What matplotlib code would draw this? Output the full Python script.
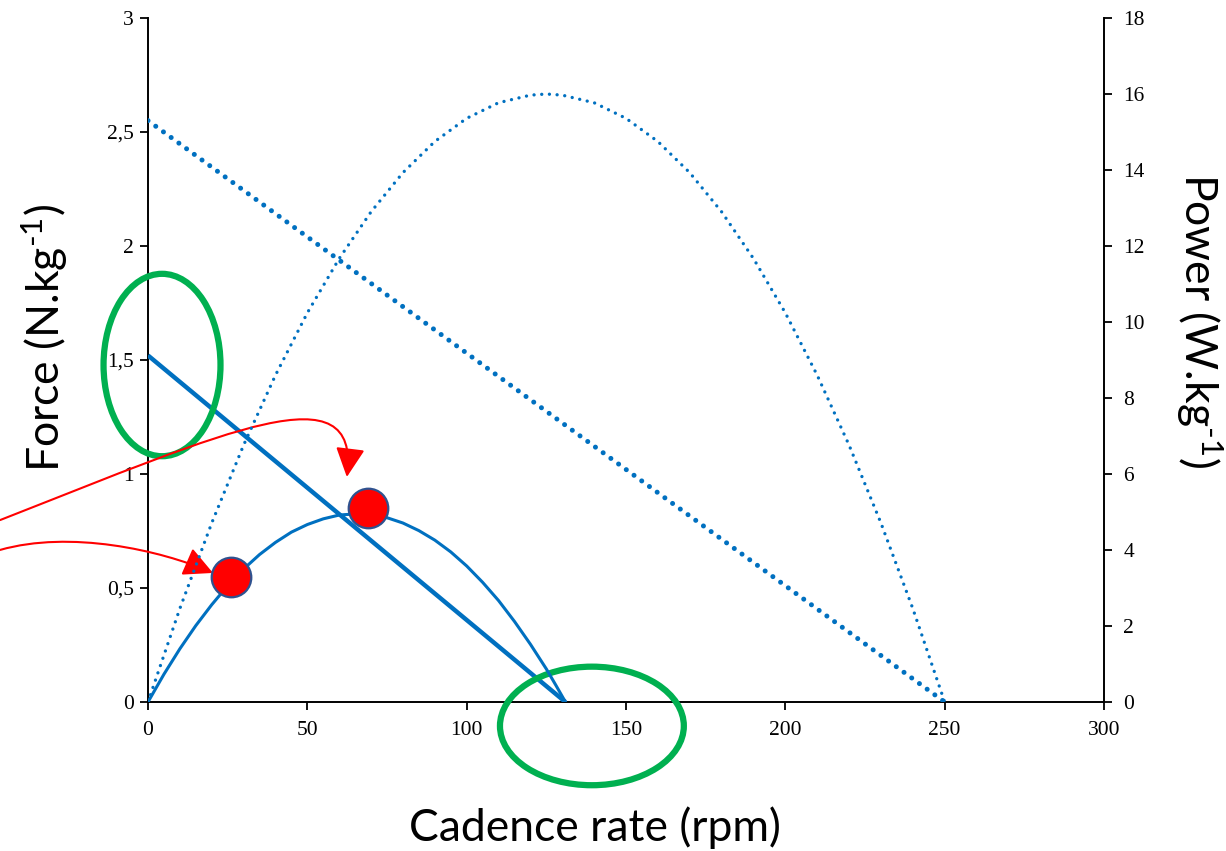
import matplotlib
matplotlib.use("Agg")
import matplotlib.pyplot as plt
from matplotlib.patches import Ellipse, FancyArrowPatch, ArrowStyle
from matplotlib.path import Path

plt.rcParams["mathtext.fontset"] = "custom"
plt.rcParams["mathtext.rm"] = "Lato"
plt.rcParams["mathtext.it"] = "Lato"

# force-velocity lines (N/kg) vs cadence (rpm)
force_cad = [0, 131]
force_low = [1.52, 0.0]
force_cad_high = [0, 250]
force_high = [2.55, 0.0]

# power-cadence curves (W/kg)
power_cad_low = [0, 5, 10, 15, 20, 25, 30, 35, 40, 45, 50, 55, 60, 65, 70, 75,
                 80, 85, 90, 95, 100, 105, 110, 115, 120, 125, 128, 131]
power_low = [0, 0.73, 1.40, 2.01, 2.56, 3.06, 3.50, 3.88, 4.20, 4.47, 4.67, 4.82, 4.92, 4.95, 4.93, 4.85,
             4.71, 4.51, 4.26, 3.95, 3.58, 3.15, 2.67, 2.12, 1.52, 0.87, 0.44, 0]
power_cad_high = [0, 10, 20, 30, 40, 50, 60, 70, 80, 90, 100, 110, 120, 125,
                  130, 140, 150, 160, 170, 180, 190, 200, 210, 220, 230, 240, 250]
power_high = [0, 2.46, 4.71, 6.76, 8.60, 10.24, 11.67, 12.90, 13.93, 14.75, 15.36, 15.77, 15.97, 16.0,
              15.97, 15.77, 15.36, 14.75, 13.93, 12.90, 11.67, 10.24, 8.60, 6.76, 4.71, 2.46, 0]

# highlighted points on the low power curve
marker_cad = [26, 69]
marker_power = [3.29, 5.10]

blue = "#0070C0"
green = "#00B050"
red = "#FF0000"

fig = plt.figure(figsize=(12.26, 8.51), dpi=100)
ax = fig.add_axes([148 / 1226, (851 - 702) / 851, 956 / 1226, 684 / 851])
ax2 = ax.twinx()

ax.plot(force_cad, force_low, color=blue, lw=3.2, solid_capstyle="butt", zorder=3)
ax.plot(force_cad_high, force_high, color=blue, lw=3.6, linestyle=(0, (0.01, 1.9)),
        dash_capstyle="round", zorder=3)

ax2.plot(power_cad_low, power_low, color=blue, lw=2.2, zorder=3)
ax2.plot(power_cad_high, power_high, color=blue, lw=2.4, linestyle=(0, (0.01, 2.3)),
         dash_capstyle="round", zorder=3)
ax2.plot(marker_cad, marker_power, linestyle="none", marker="o", markersize=28.5,
         markerfacecolor=red, markeredgecolor="#2F528F", markeredgewidth=1.6, zorder=5)

ax.set_xlim(0, 300)
ax.set_ylim(0, 3)
ax2.set_ylim(0, 18)
ax.set_xticks([0, 50, 100, 150, 200, 250, 300])
ax.set_yticks([0, 0.5, 1, 1.5, 2, 2.5, 3])
ax.set_yticklabels(["0", "0,5", "1", "1,5", "2", "2,5", "3"])
ax2.set_yticks(range(0, 19, 2))

serif = "Liberation Serif"
for a in (ax, ax2):
    a.spines["top"].set_visible(False)
    a.tick_params(labelsize=15.5, width=1.3, length=6, direction="out")
    for lab in a.get_xticklabels() + a.get_yticklabels():
        lab.set_fontfamily(serif)
    for s in a.spines.values():
        s.set_linewidth(1.4)
ax.spines["right"].set_visible(False)
ax2.spines["left"].set_visible(False)
ax2.spines["bottom"].set_visible(False)
ax.tick_params(axis="x", pad=8)
ax.tick_params(axis="y", pad=4)
ax2.tick_params(axis="y", pad=8)

label_font = dict(family="Lato", size=32)
ax.set_xlabel("Cadence rate (rpm)", va="center", **label_font)
ax.xaxis.set_label_coords(0.4676, -0.184)
ax.set_ylabel(r"Force (N.kg$^{\text{-1}}$)", va="center", **label_font)
ax.yaxis.set_label_coords(-0.108, 0.532)
ax2.set_ylabel(r"Power (W.kg$^{\text{-1}}$)", rotation=270, va="center", **label_font)
ax2.yaxis.set_label_coords(1.100, 0.558)

# green ellipses
for (cx, cy, w, h) in [(4.4, 1.478, 36.7, 0.80), (139.3, -0.105, 57.7, 0.52)]:
    ax.add_patch(Ellipse((cx, cy), w, h, fill=False, edgecolor=green, lw=4.5,
                         clip_on=False, zorder=6))

# red curved arrows coming from outside the plot
arrow_paths = [
    [(-46.4, 0.798), (25.7, 1.193), (66.5, 1.456), (62.4, 0.987)],
    [(-46.4, 0.667), (-24.5, 0.754), (3.8, 0.667), (20.4, 0.566)],
]
for pts in arrow_paths:
    path = Path(pts, [Path.MOVETO, Path.CURVE4, Path.CURVE4, Path.CURVE4])
    arr = FancyArrowPatch(path=path, arrowstyle=ArrowStyle("-|>", head_length=1.0, head_width=0.5),
                          mutation_scale=18, color=red, lw=1.5, clip_on=False, zorder=7)
    ax.add_patch(arr)

fig.savefig("out.png", dpi=100)
